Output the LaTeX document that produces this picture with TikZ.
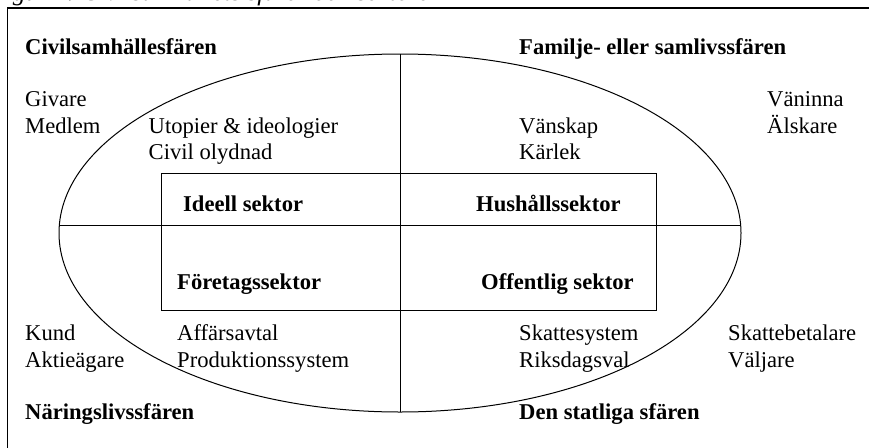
\documentclass[tikz,border=0pt]{standalone}
\usepackage{fontspec}
\setmainfont{Liberation Serif}
\begin{document}
\begin{tikzpicture}[x=1pt,y=-1pt,
  txt/.style={anchor=base west,inner sep=0pt,font=\fontsize{22.6}{26}\selectfont},
  btxt/.style={anchor=base west,inner sep=0pt,font=\fontsize{22.6}{26}\selectfont\bfseries},
  itxt/.style={anchor=base west,inner sep=0pt,font=\fontsize{25.5}{30}\selectfont\itshape},
  ln/.style={line width=1pt}]
\useasboundingbox (0,0) rectangle (869,447);
\begin{scope}
  \clip (0,0) rectangle (869,447);
  \draw[line width=1.5pt] (7.5,8) rectangle (900,470);
  \node[itxt] (cap) at (-10,1) {Figur 1. Civilsamhällets sfärer och sektorer};
\end{scope}
% ellipse, axes and inner box
\draw[ln] (400,233) ellipse [x radius=341, y radius=179];
\draw[ln] (400,54) -- (400,412);
\draw[ln] (59,225) -- (741,225);
\draw[ln] (161,173) rectangle (656,310);
% sphere titles
\node[btxt] (civ) at (25,54) {Civilsamhällesfären};
\node[btxt] (fam) at (519,54) {Familje- eller samlivssfären};
\node[btxt] (nar) at (25,419) {Näringslivssfären};
\node[btxt] (sta) at (519,419) {Den statliga sfären};
% sectors
\node[btxt] (ide) at (183,211) {Ideell sektor};
\node[btxt] (hus) at (476,211) {Hushållssektor};
\node[btxt] (for) at (177,289) {Företagssektor};
\node[btxt] (off) at (481,289) {Offentlig sektor};
% upper left
\node[txt] (giv) at (25,106) {Givare};
\node[txt] (med) at (25,133) {Medlem};
\node[txt] (uto) at (148.5,133) {Utopier \& ideologier};
\node[txt] (cvo) at (148.5,159) {Civil olydnad};
% upper right
\node[txt] (vsk) at (519,133) {Vänskap};
\node[txt] (kar) at (519,159) {Kärlek};
\node[txt] (vin) at (767,106) {Väninna};
\node[txt] (als) at (767,133) {Älskare};
% lower left
\node[txt] (kun) at (25,340) {Kund};
\node[txt] (akt) at (25,367) {Aktieägare};
\node[txt] (aff) at (177,340) {Affärsavtal};
\node[txt] (pro) at (177,367) {Produktionssystem};
% lower right
\node[txt] (sks) at (519,340) {Skattesystem};
\node[txt] (rik) at (519,367) {Riksdagsval};
\node[txt] (skb) at (728,340) {Skattebetalare};
\node[txt] (val) at (728,367) {Väljare};
\end{tikzpicture}
\end{document}
